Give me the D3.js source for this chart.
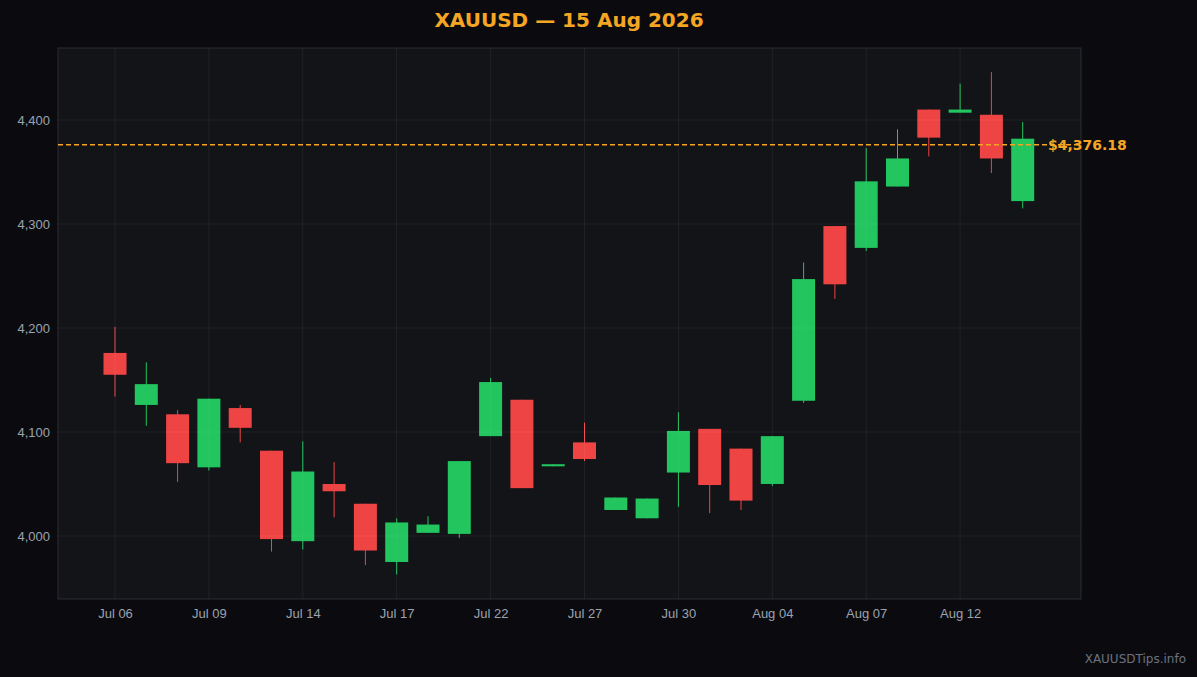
<!DOCTYPE html>
<html><head><meta charset="utf-8">
<script src="https://cdn.jsdelivr.net/npm/d3@7"></script>
<style>body{margin:0;background:#0b0b0f;}svg{display:block;font-family:"DejaVu Sans",sans-serif;}</style>
</head><body><svg id="c" width="1197" height="677"></svg>
<script>
const dates=["2026-07-06","2026-07-07","2026-07-08","2026-07-09","2026-07-10","2026-07-13","2026-07-14","2026-07-15","2026-07-16","2026-07-17","2026-07-20","2026-07-21","2026-07-22","2026-07-23","2026-07-24","2026-07-27","2026-07-28","2026-07-29","2026-07-30","2026-07-31","2026-08-03","2026-08-04","2026-08-05","2026-08-06","2026-08-07","2026-08-10","2026-08-11","2026-08-12","2026-08-13","2026-08-14"];
const opens =[4176,4126,4117,4066,4123,4082,3995,4050,4031,3975,4003,4002,4096,4131,4067,4090,4025,4017,4061,4103,4084,4050,4130,4298,4277,4336,4410,4407,4405,4322];
const closes=[4155,4146,4070,4132,4104,3997,4062,4043,3986,4013,4011,4072,4148,4046,4069,4074,4037,4036,4101,4049,4034,4096,4247,4242,4341,4363,4383,4410,4363,4382];
const highs =[4201,4167,4121,4132,4126,4082,4091,4071,4031,4017,4019,4072,4152,4131,4069,4109,4037,4036,4119,4103,4084,4096,4263,4298,4373,4391,4410,4435,4446,4398];
const lows  =[4134,4106,4052,4063,4090,3985,3987,4018,3972,3963,4003,3998,4096,4046,4067,4072,4025,4017,4028,4022,4025,4048,4128,4228,4274,4336,4365,4407,4349,4315];
const yTicks=[4000,4100,4200,4300,4400];
const lastPrice=4376.18;
const title="XAUUSD — 15 Aug 2026";

const svg=d3.select("#c");
const L=58,R=1081,T=48,B=599;
svg.append("rect").attr("x",L).attr("y",T).attr("width",R-L).attr("height",B-T).attr("fill","#121418").attr("stroke","#2a2d33");
const step=31.3;
const x=d3.scalePoint().domain(dates).range([115,115+step*29]);
const y=d3.scaleLinear().domain([3939.4,4469.2]).range([B,T]);
const fmt=d3.timeFormat("%b %d"),parse=d3.timeParse("%Y-%m-%d");
const xt=dates.filter((d,i)=>i%3===0);
// candles
const g=svg.append("g");
dates.forEach((d,i)=>{
  const up=closes[i]>=opens[i],col=up?"#22c55e":"#ef4444";
  g.append("line").attr("x1",x(d)).attr("x2",x(d)).attr("y1",y(highs[i])).attr("y2",y(lows[i])).attr("stroke",col).attr("stroke-width",1);
  const t=y(Math.max(opens[i],closes[i])),b=y(Math.min(opens[i],closes[i]));
  g.append("rect").attr("x",x(d)-11.5).attr("width",23).attr("y",t).attr("height",Math.max(b-t,2)).attr("fill",col);
});
// grid
const gr=svg.append("g").attr("stroke","#ffffff").attr("stroke-opacity",0.06);
yTicks.forEach(v=>gr.append("line").attr("x1",L).attr("x2",R).attr("y1",y(v)).attr("y2",y(v)));
xt.forEach(d=>gr.append("line").attr("x1",x(d)).attr("x2",x(d)).attr("y1",T).attr("y2",B));
// axes
const ya=svg.append("g").attr("transform",`translate(${L},0)`).call(d3.axisLeft(y).tickValues(yTicks).tickSize(0).tickPadding(8));
const xa=svg.append("g").attr("transform",`translate(0,${B})`).call(d3.axisBottom(x).tickValues(xt).tickFormat(d=>fmt(parse(d))).tickSize(0).tickPadding(10));
[ya,xa].forEach(a=>{a.select(".domain").remove();a.selectAll("text").attr("fill","#9ca3af").attr("font-size",13);});
// last price
svg.append("line").attr("x1",L).attr("x2",R).attr("y1",y(lastPrice)).attr("y2",y(lastPrice)).attr("stroke","#f5a623").attr("stroke-width",1.5).attr("stroke-dasharray","5,3");
svg.append("text").attr("x",1048).attr("y",y(lastPrice)+5).attr("fill","#f5a623").attr("font-size",14).attr("font-weight","bold").text("$"+d3.format(",.2f")(lastPrice));
svg.append("text").attr("x",569).attr("y",27).attr("text-anchor","middle").attr("fill","#f5a623").attr("font-size",20).attr("font-weight","bold").text(title);
svg.append("text").attr("x",1186).attr("y",663).attr("text-anchor","end").attr("fill","#6b7280").attr("font-size",12).text("XAUUSDTips.info");
</script></body></html>
